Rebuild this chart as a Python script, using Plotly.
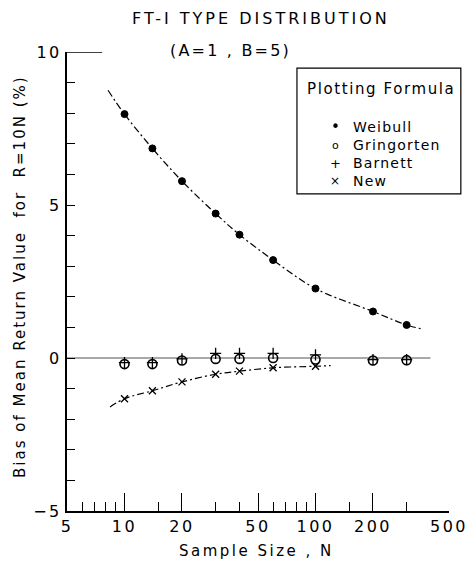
import plotly.graph_objects as go

# Sample sizes at which the bias was evaluated
sample_n = [10, 14, 20, 30, 40, 60, 100, 200, 300]

# Bias of the mean 10N-year return value (%) for each plotting formula
weibull = [7.97, 6.85, 5.78, 4.72, 4.03, 3.20, 2.27, 1.52, 1.08]
gringorten = [-0.20, -0.20, -0.08, -0.03, -0.03, 0.00, -0.05, -0.08, -0.07]
barnett = [-0.15, -0.15, -0.03, 0.15, 0.15, 0.15, 0.10, -0.05, -0.05]
new_n = [10, 14, 20, 30, 40, 60, 100]
new = [-1.33, -1.07, -0.78, -0.53, -0.43, -0.32, -0.27]

# Smoothed trend curves drawn through the Weibull and New results
weibull_fit_n = [8.2, 10, 14, 20, 30, 40, 60, 100, 200, 300, 355]
weibull_fit = [8.75, 7.97, 6.85, 5.78, 4.72, 4.03, 3.20, 2.27, 1.52, 1.08, 0.96]
new_fit_n = [8.4, 10, 14, 20, 30, 40, 60, 100, 120]
new_fit = [-1.60, -1.33, -1.07, -0.78, -0.53, -0.43, -0.32, -0.27, -0.25]

x_ticks = [5, 10, 20, 50, 100, 200, 500]
x_minor = [6, 7, 8, 9, 15, 30, 40, 60, 70, 80, 90, 150, 300]
y_ticks = [-5, 0, 5, 10]
y_tick_labels = ["\u22125", "0", "5", "10"]

# Key entries: name and the glyph used for it in the key box
key_names = ["Weibull", "Gringorten", "Barnett", "New"]
key_glyphs = ["\u2022", "o", "+", "\u00d7"]

FONT = "DejaVu Sans"
INK = "black"


def spaced(text, px):
    """Wrap text in a span with extra letter spacing (lettering-guide look)."""
    return f'<span style="letter-spacing:{px}px">{text}</span>'


fig = go.Figure()

# Zero-bias reference line
fig.add_trace(go.Scatter(
    x=[5, 400], y=[0, 0], mode="lines",
    line=dict(color="#555555", width=1.2),
    showlegend=False, hoverinfo="skip"))

fig.add_trace(go.Scatter(
    x=weibull_fit_n, y=weibull_fit, mode="lines",
    line=dict(color=INK, width=1.2, dash="7px,3px,2px,3px", shape="spline"),
    showlegend=False, hoverinfo="skip"))
fig.add_trace(go.Scatter(
    x=new_fit_n, y=new_fit, mode="lines",
    line=dict(color=INK, width=1.2, dash="7px,3px,2px,3px", shape="spline"),
    showlegend=False, hoverinfo="skip"))

fig.add_trace(go.Scatter(
    x=sample_n, y=weibull, mode="markers", name="Weibull",
    marker=dict(symbol="circle", size=7, color=INK,
                line=dict(color=INK, width=1))))
fig.add_trace(go.Scatter(
    x=sample_n, y=gringorten, mode="markers", name="Gringorten",
    marker=dict(symbol="circle-open", size=9, color=INK,
                line=dict(color=INK, width=1.6))))
fig.add_trace(go.Scatter(
    x=sample_n, y=barnett, mode="markers", name="Barnett",
    marker=dict(symbol="cross-thin", size=8, color=INK,
                line=dict(color=INK, width=1.3))))
fig.add_trace(go.Scatter(
    x=new_n, y=new, mode="markers", name="New",
    marker=dict(symbol="x-thin", size=7, color=INK,
                line=dict(color=INK, width=1.3))))

shapes = [
    # Long tick at the top of the y axis
    dict(type="line", xref="paper", yref="y",
         x0=0, x1=0.092, y0=10, y1=10,
         line=dict(color=INK, width=1.5)),
    # Key box
    dict(type="rect", xref="paper", yref="paper",
         x0=0.602, x1=1.031, y0=0.691, y1=0.965,
         line=dict(color=INK, width=1.2), fillcolor="white", layer="above"),
]

annotations = [
    dict(text=spaced("FT-Ⅰ TYPE DISTRIBUTION", 3), x=0.508, y=1.074,
         font=dict(size=16)),
    dict(text=spaced("(A=1 , B=5)", 2.2), x=0.429, y=1.004, font=dict(size=16)),
    dict(text=spaced("Bias of Mean Return Value  for  R=10N (%)", 2),
         x=-0.123, y=0.51, textangle=-90, font=dict(size=15)),
    dict(text=spaced("Sample Size , N", 2.5), x=0.497, y=-0.087,
         font=dict(size=15)),
    dict(text=spaced("Plotting Formula", 1.6), x=0.822, y=0.920,
         font=dict(size=15)),
]

key_rows = [0.836, 0.797, 0.758, 0.719]
glyph_sizes = [15, 11, 13, 12]
for name, glyph, gsize, yk in zip(key_names, key_glyphs, glyph_sizes, key_rows):
    annotations.append(dict(text=glyph, x=0.702, y=yk, font=dict(size=gsize)))
    annotations.append(dict(text=spaced(name, 1.2), x=0.743, y=yk,
                            xanchor="left", font=dict(size=14)))

for a in annotations:
    a.setdefault("xanchor", "center")
    a.update(xref="paper", yref="paper", showarrow=False, yanchor="middle")
    a["font"].update(family=FONT, color=INK)

fig.update_layout(
    width=467, height=567,
    margin=dict(l=67, r=18, t=52, b=56),
    paper_bgcolor="white", plot_bgcolor="white",
    font=dict(family=FONT, color=INK, size=15),
    annotations=annotations,
    shapes=shapes,
    showlegend=False,
    xaxis=dict(
        type="log", range=[0.69897, 2.69897], automargin=False,
        showline=True, linecolor=INK, linewidth=2,
        showgrid=False, zeroline=False,
        tickmode="array", tickvals=x_ticks,
        ticktext=[spaced(str(v), 2.5) for v in x_ticks],
        ticklabeloverflow="allow",
        ticks="inside", ticklen=18, tickwidth=1.2, tickcolor=INK,
        tickfont=dict(family=FONT, size=16, color=INK),
        minor=dict(tickmode="array", tickvals=x_minor, ticks="inside",
                   ticklen=9, tickwidth=1.2, tickcolor=INK, showgrid=False),
    ),
    yaxis=dict(
        range=[-5, 10], automargin=False,
        showline=True, linecolor=INK, linewidth=2,
        showgrid=False, zeroline=False,
        tickmode="array", tickvals=y_ticks,
        ticktext=[spaced(t, 2.5) for t in y_tick_labels],
        ticks="inside", ticklen=8, tickwidth=1, tickcolor=INK,
        tickfont=dict(family=FONT, size=16, color=INK),
        minor=dict(dtick=1, ticks="inside", ticklen=8, tickwidth=1,
                   tickcolor=INK, showgrid=False),
    ),
)

fig.write_html("out.html")
